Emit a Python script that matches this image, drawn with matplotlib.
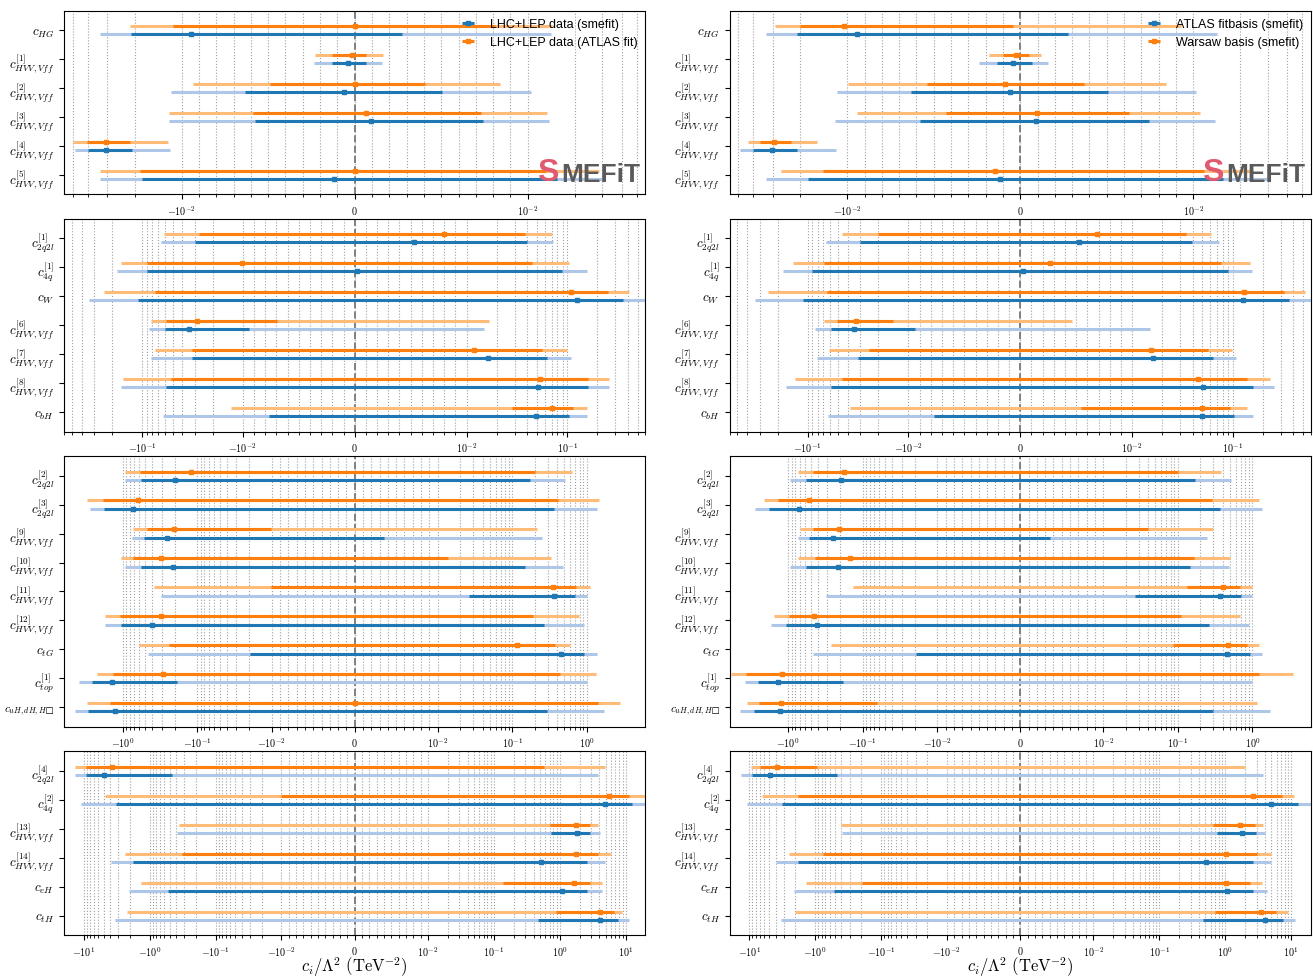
import numpy as np
import matplotlib
matplotlib.use("Agg")
import matplotlib.pyplot as plt
from matplotlib.ticker import Locator, FuncFormatter

plt.rcParams["mathtext.fontset"] = "cm"

# coefficient labels, one list per row of panels
row1 = [r"$c_{HG}$"] + [r"$c_{HVV,Vff}^{[%d]}$" % i for i in range(1, 6)]
row2 = [r"$c_{2q2l}^{[1]}$", r"$c_{4q}^{[1]}$", r"$c_{W}$",
        r"$c_{HVV,Vff}^{[6]}$", r"$c_{HVV,Vff}^{[7]}$", r"$c_{HVV,Vff}^{[8]}$", r"$c_{bH}$"]
row3 = [r"$c_{2q2l}^{[2]}$", r"$c_{2q2l}^{[3]}$"] + \
       [r"$c_{HVV,Vff}^{[%d]}$" % i for i in range(9, 13)] + \
       [r"$c_{tG}$", r"$c_{top}^{[1]}$", "$c_{uH,dH,H\u25a1}$"]
row4 = [r"$c_{2q2l}^{[4]}$", r"$c_{4q}^{[2]}$", r"$c_{HVV,Vff}^{[13]}$",
        r"$c_{HVV,Vff}^{[14]}$", r"$c_{eH}$", r"$c_{tH}$"]
rows = [row1, row2, row3, row4]
row_xlim = [0.057, 0.6, 6.1, 20.0]

# smefit fit in the ATLAS basis (blue, same in both columns)
blue_lo95 = [-0.0333, -0.00237, -0.0117, -0.0120, -0.0485, -0.0333,
             -0.0655, -0.178, -0.337, -0.085, -0.081, -0.163, -0.0624,
             -0.938, -2.76, -0.743, -0.938, -0.308, -1.72, -0.46, -3.84, -4.37,
             -13.6, -10.9, -0.391, -3.91, -2.08, -3.33]
blue_lo68 = [-0.0211, -0.00134, -0.00634, -0.00578, -0.040, -0.01787,
             -0.030, -0.090, -0.111, -0.0594, -0.0318, -0.0583, -0.0077,
             -0.573, -1.79, -0.517, -0.573, 0.0267, -1.06, -0.0193, -2.54, -2.89,
             -9.16, -3.24, 0.746, -1.8, -0.525, 0.466]
blue_mid = [-0.00944, -0.00041, -0.00061, 0.00093, -0.0304, -0.00117,
            0.00528, 0.00023, 0.126, -0.0347, 0.0162, 0.051, 0.049,
            -0.196, -0.714, -0.254, -0.212, 0.365, -0.404, 0.454, -1.38, -1.28,
            -4.87, 4.87, 1.82, 0.517, 1.08, 4.03]
blue_hi68 = [0.00273, 0.00066, 0.00505, 0.00744, -0.0209, 0.0155,
             0.0397, 0.089, 0.36, -0.00943, 0.0636, 0.160, 0.104,
             0.172, 0.365, 0.00355, 0.147, 0.696, 0.264, 0.925, -0.184, 0.293,
             -0.466, 12.6, 2.92, 2.63, 2.63, 7.57]
blue_hi95 = [0.0141, 0.00159, 0.01045, 0.01374, -0.01184, 0.0298,
             0.0728, 0.156, 0.65, 0.015, 0.109, 0.26, 0.159,
             0.517, 1.36, 0.247, 0.485, 1.0, 0.902, 1.36, 1.0, 1.72,
             3.8, 25.0, 4.03, 4.87, 4.33, 11.4]

# ATLAS fit (orange, left column)
atlas_lo95 = [-0.0215, -0.00232, -0.00937, -0.01213, -0.050, -0.0333,
              -0.0606, -0.163, -0.240, -0.0817, -0.0741, -0.156, -0.0132,
              -0.938, -2.96, -0.714, -1.05, -0.374, -1.72, -0.596, -2.23, -2.96,
              -13.6, -4.73, -0.358, -2.41, -1.34, -2.24]
atlas_lo68 = [-0.0113, -0.00134, -0.00488, -0.0059, -0.0407, -0.01844,
              -0.0275, -0.090, -0.0741, -0.0578, -0.0318, -0.0515, 0.028,
              -0.589, -1.84, -0.472, -0.714, -0.0104, -1.07, -0.241, -1.36, -1.47,
              -9.16, -0.01, 0.703, -0.323, 0.14, 0.877]
atlas_mid = [0.0, -0.00017, 0.0, 0.00066, -0.0304, 0.0,
             0.008, -0.0102, 0.108, -0.0289, 0.0119, 0.054, 0.0707,
             -0.121, -0.612, -0.204, -0.308, 0.35, -0.308, 0.117, -0.289, 0.0,
             -3.74, 5.65, 1.75, 1.75, 1.62, 4.03]
atlas_hi68 = [0.0081, 0.00066, 0.00407, 0.00727, -0.0215, 0.01316,
              0.0385, 0.0445, 0.257, -0.00698, 0.0566, 0.160, 0.115,
              0.204, 0.415, -0.0104, 0.0138, 0.714, 0.191, 0.379, 0.443, 1.42,
              0.581, 11.4, 2.83, 3.8, 2.83, 6.73]
atlas_hi95 = [0.01436, 0.00163, 0.00841, 0.01324, -0.01228, 0.0285,
              0.0707, 0.104, 0.416, 0.0167, 0.099, 0.26, 0.159,
              0.636, 1.455, 0.212, 0.333, 1.09, 0.792, 0.596, 1.33, 2.81,
              4.87, 25.0, 3.8, 6.07, 4.33, 8.77]

# smefit fit in the Warsaw basis (orange, right column)
warsaw_lo95 = [-0.0292, -0.00182, -0.00993, -0.00944, -0.0433, -0.0266,
               -0.046, -0.141, -0.249, -0.0695, -0.0617, -0.134, -0.0383,
               -0.733, -2.12, -0.687, -0.74, -0.136, -1.55, -0.264, -5.8, -3.51,
               -9.57, -6.35, -0.409, -2.52, -1.38, -2.05]
warsaw_lo68 = [-0.0201, -0.00102, -0.00541, -0.00427, -0.0362, -0.01435,
               -0.020, -0.0695, -0.065, -0.051, -0.0246, -0.046, 0.00545,
               -0.466, -1.35, -0.466, -0.437, 0.131, -0.986, 0.0857, -3.69, -2.44,
               -6.83, -1.82, 0.644, -0.768, -0.196, 0.703]
warsaw_mid = [-0.01051, -0.00027, -0.00088, 0.00098, -0.0295, -0.00146,
              0.00684, 0.0027, 0.128, -0.0329, 0.0155, 0.0455, 0.049,
              -0.179, -0.531, -0.209, -0.146, 0.404, -0.454, 0.466, -1.2, -1.25,
              -3.85, 2.63, 1.69, 1.04, 1.04, 3.53]
warsaw_hi68 = [-0.00044, 0.00048, 0.0037, 0.00627, -0.0228, 0.01167,
               0.0345, 0.0773, 0.326, -0.01427, 0.0568, 0.139, 0.094,
               0.101, 0.285, 0.0394, 0.166, 0.678, 0.111, 0.857, 1.21, -0.0636,
               -0.944, 7.35, 2.79, 3.0, 2.34, 5.9]
warsaw_hi95 = [0.0093, 0.00121, 0.00841, 0.01111, -0.0157, 0.0241,
               0.0614, 0.148, 0.525, 0.00459, 0.099, 0.235, 0.139,
               0.384, 1.21, 0.293, 0.498, 0.975, 0.678, 1.23, 3.55, 1.14,
               2.02, 10.9, 3.8, 4.87, 3.64, 9.02]

blue = (blue_lo95, blue_lo68, blue_mid, blue_hi68, blue_hi95)
atlas = (atlas_lo95, atlas_lo68, atlas_mid, atlas_hi68, atlas_hi95)
warsaw = (warsaw_lo95, warsaw_lo68, warsaw_mid, warsaw_hi68, warsaw_hi95)

columns = [
    [("LHC+LEP data (smefit)", blue, "#1f77b4", "#aec7e8", 0.14),
     ("LHC+LEP data (ATLAS fit)", atlas, "#ff7f0e", "#ffbb78", -0.14)],
    [("ATLAS fitbasis (smefit)", blue, "#1f77b4", "#aec7e8", 0.14),
     ("Warsaw basis (smefit)", warsaw, "#ff7f0e", "#ffbb78", -0.14)],
]

LINTHRESH = 1e-2


class MinorSymLogLocator(Locator):
    # minor ticks: linear steps inside linthresh, 2..9 multiples outside
    def __init__(self, linthresh):
        self.linthresh = linthresh

    def __call__(self):
        majorlocs = np.sort(self.axis.get_majorticklocs())
        minorlocs = []
        for i in range(1, len(majorlocs)):
            lo, hi = majorlocs[i - 1], majorlocs[i]
            ndivs = 10 if abs((lo + hi) / 2) < self.linthresh else 9
            minorlocs.extend(np.linspace(lo, hi, ndivs + 1)[1:-1])
        return self.raise_if_exceeds(np.array(minorlocs))

    def tick_values(self, vmin, vmax):
        raise NotImplementedError


def sci_fmt(x, pos):
    if x == 0:
        return r"$0$"
    e = int(round(np.log10(abs(x))))
    sign = "-" if x < 0 else ""
    return r"$%s10^{%d}$" % (sign, e)


fig = plt.figure(figsize=(13.13, 9.78), dpi=100)
gs = fig.add_gridspec(4, 2, height_ratios=[len(r) + 0.34 for r in rows],
                      left=0.0487, right=0.9985, top=0.988, bottom=0.0429,
                      hspace=0.115, wspace=0.1445)

for col, series in enumerate(columns):
    start = 0
    for r, labels in enumerate(rows):
        ax = fig.add_subplot(gs[r, col])
        n = len(labels)
        ypos = np.arange(n)
        ax.axvline(0, color="gray", ls="--", lw=1.4, zorder=1)
        for name, vals, dark, light, off in series:
            lo95, lo68, mid, hi68, hi95 = [np.array(v[start:start + n]) for v in vals]
            y = ypos + off
            ax.hlines(y, lo95, hi95, color=light, lw=2.2, zorder=2)
            ax.hlines(y, lo68, hi68, color=dark, lw=2.2, zorder=3)
            ax.errorbar(mid, y, xerr=[np.zeros(n), np.zeros(n)], fmt="s", ms=2.5,
                        color=dark, elinewidth=2.2, zorder=4, label=name)
        ax.set_xscale("symlog", linthresh=LINTHRESH)
        ax.set_xlim(-row_xlim[r], row_xlim[r])
        ax.set_ylim(n - 1 + 0.67, -0.67)
        ax.set_yticks(ypos)
        ax.set_yticklabels(labels, fontsize=9.5)
        for t in ax.get_yticklabels():
            if "uH" in t.get_text():
                t.set_fontsize(8.3)
        ax.xaxis.set_minor_locator(MinorSymLogLocator(LINTHRESH))
        ax.xaxis.set_major_formatter(FuncFormatter(sci_fmt))
        ax.tick_params(axis="x", labelsize=7.3, pad=3)
        ax.grid(True, which="both", axis="x", ls=":", lw=0.8, color="#a0a0a0", zorder=0)
        ax.set_axisbelow(True)
        if r == 0:
            ax.legend(loc="upper right", frameon=False, fontsize=9,
                      borderaxespad=0.2, prop={"family": "Liberation Sans", "size": 9})
            ax.text(0.85, 0.04, "S", transform=ax.transAxes, fontsize=23,
                    fontweight="bold", color="#e05a70", ha="right", va="bottom",
                    family="Liberation Sans", zorder=6)
            ax.text(0.855, 0.045, "MEFiT", transform=ax.transAxes, fontsize=19,
                    fontweight="bold", color="#5a5a5a", ha="left", va="bottom",
                    family="Liberation Sans", zorder=6)
        if r == len(rows) - 1:
            ax.set_xlabel(r"$c_i/\Lambda^2\ ({\rm TeV}^{-2})$", fontsize=12, labelpad=-2.5)
        start += n

fig.savefig("out.png", dpi=100)
